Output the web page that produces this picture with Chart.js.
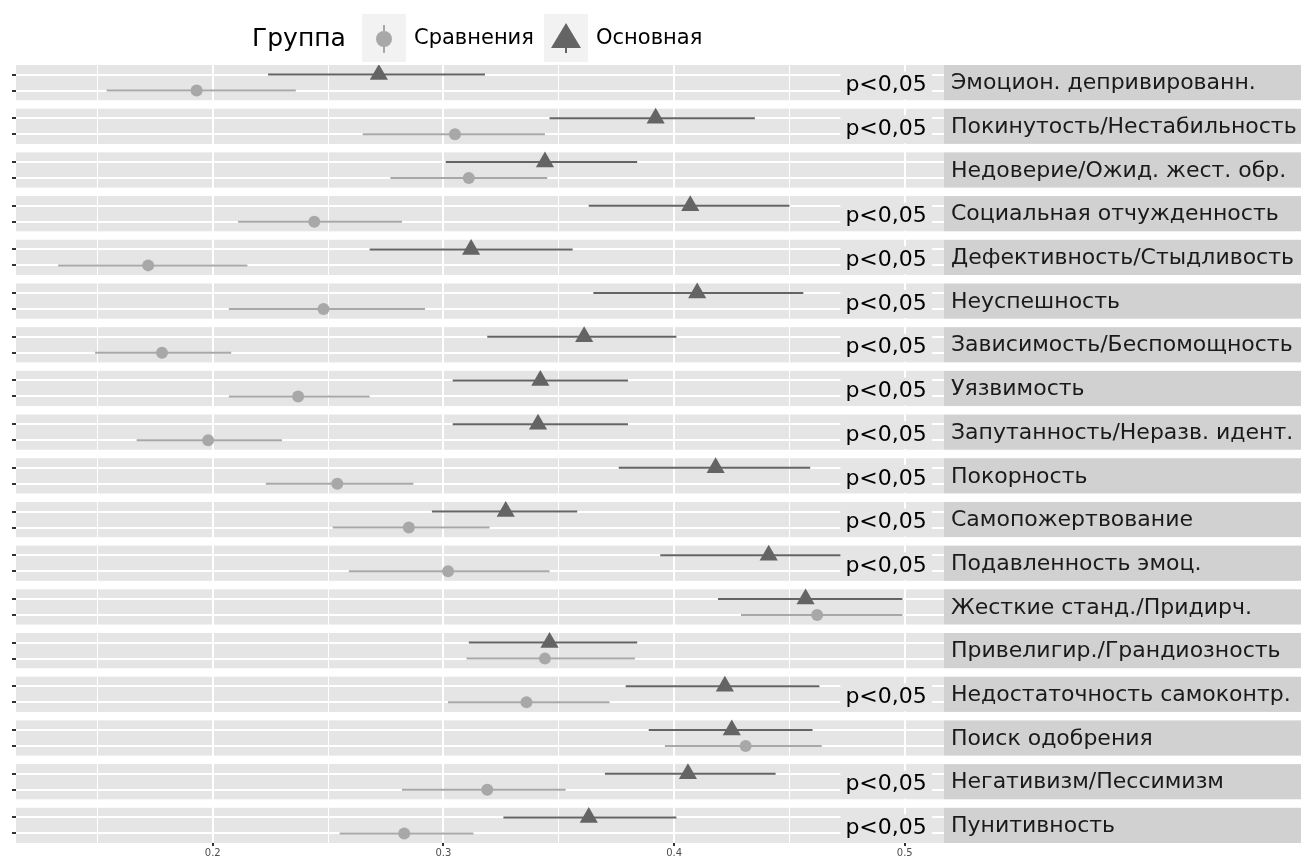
<!DOCTYPE html>
<html>
<head>
<meta charset="utf-8">
<script src="https://cdn.jsdelivr.net/npm/chart.js@4"></script>
<style>
  html, body { margin: 0; padding: 0; background: #ffffff; }
  canvas { display: block; }
</style>
</head>
<body>
<canvas id="myChart" width="1301" height="861"></canvas>
<script>
// schema names, top to bottom
const categories = [
    'Эмоцион. депривированн.', 'Покинутость/Нестабильность', 'Недоверие/Ожид. жест. обр.',
    'Социальная отчужденность', 'Дефективность/Стыдливость', 'Неуспешность',
    'Зависимость/Беспомощность', 'Уязвимость', 'Запутанность/Неразв. идент.',
    'Покорность', 'Самопожертвование', 'Подавленность эмоц.',
    'Жесткие станд./Придирч.', 'Привелигир./Грандиозность', 'Недостаточность самоконтр.',
    'Поиск одобрения', 'Негативизм/Пессимизм', 'Пунитивность'
];

// group "Основная"
const mainMean = [0.272, 0.392, 0.344, 0.407, 0.312, 0.410, 0.361, 0.342, 0.341, 0.418, 0.327, 0.441, 0.457, 0.346, 0.422, 0.425, 0.406, 0.363];
const mainLow  = [0.224, 0.346, 0.301, 0.363, 0.268, 0.365, 0.319, 0.304, 0.304, 0.376, 0.295, 0.394, 0.419, 0.311, 0.379, 0.389, 0.370, 0.326];
const mainHigh = [0.318, 0.435, 0.384, 0.450, 0.356, 0.456, 0.401, 0.380, 0.380, 0.459, 0.358, 0.487, 0.499, 0.384, 0.463, 0.460, 0.444, 0.401];

// group "Сравнения"
const compMean = [0.193, 0.305, 0.311, 0.244, 0.172, 0.248, 0.178, 0.237, 0.198, 0.254, 0.285, 0.302, 0.462, 0.344, 0.336, 0.431, 0.319, 0.283];
const compLow  = [0.154, 0.265, 0.277, 0.211, 0.133, 0.207, 0.149, 0.207, 0.167, 0.223, 0.252, 0.259, 0.429, 0.310, 0.302, 0.396, 0.282, 0.255];
const compHigh = [0.236, 0.344, 0.345, 0.282, 0.215, 0.292, 0.208, 0.268, 0.230, 0.287, 0.320, 0.346, 0.499, 0.383, 0.372, 0.464, 0.353, 0.313];

// significance note per row
const pLabels = ['p<0,05', 'p<0,05', '', 'p<0,05', 'p<0,05', 'p<0,05', 'p<0,05', 'p<0,05', 'p<0,05',
                 'p<0,05', 'p<0,05', 'p<0,05', '', '', 'p<0,05', '', 'p<0,05', 'p<0,05'];

const xTicks = [0.15, 0.2, 0.25, 0.3, 0.35, 0.4, 0.45, 0.5];
const xLabels = ['', '0.2', '', '0.3', '', '0.4', '', '0.5'];

// facet layout in y units
const PITCH = 2.73, PANEL = 2.2, LV_MAIN = 0.6, LV_COMP = 1.6;
const Y_MAX = (categories.length - 1) * PITCH + PANEL;

const DARK = '#646464';
const LIGHT = '#a8a8a8';
const PANEL_BG = '#e5e5e5';
const FONT = "'DejaVu Sans'";

function rangeData(lo, hi, lv) {
    var out = [];
    lo.forEach(function (v, i) {
        var y = i * PITCH + lv;
        out.push({ x: v, y: y }, { x: hi[i], y: y }, { x: null, y: null });
    });
    return out;
}
function pointData(m, lv) {
    return m.map(function (v, i) { return { x: v, y: i * PITCH + lv }; });
}

const facetPlugin = {
    id: 'facets',
    beforeDraw: function (chart) {
        const ctx = chart.ctx, y = chart.scales.y, area = chart.chartArea;
        ctx.save();
        ctx.fillStyle = '#ffffff';
        ctx.fillRect(0, 0, chart.width, chart.height);
        categories.forEach(function (name, i) {
            var top = y.getPixelForValue(i * PITCH), bot = y.getPixelForValue(i * PITCH + PANEL);
            ctx.fillStyle = PANEL_BG;
            ctx.fillRect(area.left, top, area.right - area.left, bot - top);
            ctx.fillStyle = '#d1d1d1';
            ctx.fillRect(area.right, top, chart.width - area.right, bot - top);
            ctx.fillStyle = '#1a1a1a';
            ctx.font = '22px ' + FONT;
            ctx.textBaseline = 'middle';
            ctx.textAlign = 'left';
            ctx.fillText(name, area.right + 7, (top + bot) / 2 + 1);
        });

        // legend
        ctx.fillStyle = '#000000';
        ctx.textBaseline = 'middle';
        ctx.font = '25px ' + FONT;
        ctx.fillText('Группа', 252, 39);
        ctx.fillStyle = '#f2f2f2';
        ctx.fillRect(362, 14, 44, 48);
        ctx.fillRect(544, 14, 44, 48);
        ctx.strokeStyle = LIGHT; ctx.lineWidth = 2;
        ctx.beginPath(); ctx.moveTo(384, 25); ctx.lineTo(384, 53); ctx.stroke();
        ctx.fillStyle = LIGHT;
        ctx.beginPath(); ctx.arc(384, 39, 8, 0, Math.PI * 2); ctx.fill();
        ctx.strokeStyle = DARK;
        ctx.beginPath(); ctx.moveTo(566, 25); ctx.lineTo(566, 53); ctx.stroke();
        ctx.fillStyle = DARK;
        ctx.beginPath(); ctx.moveTo(566, 23); ctx.lineTo(581, 48); ctx.lineTo(551, 48); ctx.closePath(); ctx.fill();
        ctx.fillStyle = '#000000';
        ctx.font = '21px ' + FONT;
        ctx.fillText('Сравнения', 414, 39);
        ctx.fillText('Основная', 596, 39);
        ctx.restore();
    },
    afterDatasetsDraw: function (chart) {
        const ctx = chart.ctx, x = chart.scales.x, y = chart.scales.y;
        ctx.save();
        ctx.font = '22px ' + FONT;
        ctx.textBaseline = 'middle';
        ctx.textAlign = 'right';
        var right = x.getPixelForValue(0.5) + 22;
        pLabels.forEach(function (txt, i) {
            if (!txt) return;
            var cy = y.getPixelForValue(i * PITCH + PANEL / 2) + 3;
            var w = ctx.measureText(txt).width;
            ctx.fillStyle = PANEL_BG;
            ctx.fillRect(right - w - 5, cy - 14, w + 10, 28);
            ctx.fillStyle = '#000000';
            ctx.fillText(txt, right, cy);
        });
        ctx.restore();
    }
};

const chart = new Chart(document.getElementById('myChart'), {
    type: 'scatter',
    data: {
        datasets: [
            {
                label: 'Основная', data: pointData(mainMean, LV_MAIN),
                pointStyle: 'triangle', pointRadius: 10.5, backgroundColor: DARK, borderWidth: 0
            },
            {
                label: 'Сравнения', data: pointData(compMean, LV_COMP),
                pointStyle: 'circle', pointRadius: 6, backgroundColor: LIGHT, borderWidth: 0
            },
            {
                type: 'line', label: 'Основная CI', data: rangeData(mainLow, mainHigh, LV_MAIN),
                borderColor: DARK, borderWidth: 2, pointRadius: 0, spanGaps: false
            },
            {
                type: 'line', label: 'Сравнения CI', data: rangeData(compLow, compHigh, LV_COMP),
                borderColor: LIGHT, borderWidth: 2, pointRadius: 0, spanGaps: false
            }
        ]
    },
    options: {
        responsive: false,
        animation: false,
        devicePixelRatio: 1,
        layout: { padding: { top: 65, right: 357, left: 0, bottom: 0 } },
        plugins: { legend: { display: false }, tooltip: { enabled: false } },
        scales: {
            x: {
                type: 'linear', min: 0.1147, max: 0.517,
                afterBuildTicks: function (s) { s.ticks = xTicks.map(function (v) { return { value: v }; }); },
                afterFit: function (s) { s.height = 18; },
                border: { display: false },
                grid: {
                    color: '#ffffff',
                    lineWidth: function (c) { return c.index % 2 ? 2 : 1; },
                    tickColor: function (c) { return c.index % 2 ? '#333333' : 'rgba(0,0,0,0)'; },
                    tickLength: 3
                },
                ticks: {
                    padding: 1, color: '#4d4d4d', font: { family: FONT, size: 10 },
                    callback: function (v, i) { return xLabels[i]; }
                }
            },
            y: {
                type: 'linear', min: 0, max: Y_MAX, reverse: true,
                afterBuildTicks: function (s) {
                    var t = [];
                    categories.forEach(function (c, i) {
                        t.push({ value: i * PITCH + LV_MAIN }, { value: i * PITCH + LV_COMP });
                    });
                    s.ticks = t;
                },
                afterFit: function (s) { s.width = 16; },
                border: { display: false },
                grid: { color: '#ffffff', lineWidth: 2, tickColor: '#333333', tickLength: 4 },
                ticks: { display: true, callback: function () { return ''; } }
            }
        }
    },
    plugins: [facetPlugin]
});
</script>
</body>
</html>
